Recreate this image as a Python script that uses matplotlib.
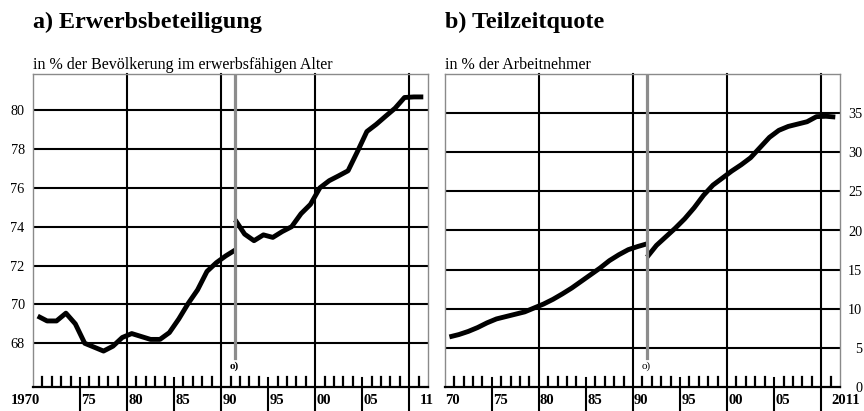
import numpy as np
import matplotlib
matplotlib.use('Agg')
import matplotlib.pyplot as plt

plt.rcParams['font.family'] = ['Liberation Serif', 'DejaVu Serif']

# --- data ---
years_west = np.arange(1970, 1992)
years_all = np.arange(1991, 2012)

# a) Erwerbsbeteiligung, in % der Bevoelkerung im erwerbsfaehigen Alter
erwerb_west = [69.4, 69.15, 69.15, 69.55, 69.0, 68.0, 67.8, 67.6, 67.85, 68.3,
               68.5, 68.35, 68.2, 68.2, 68.55, 69.25, 70.05, 70.75, 71.7, 72.15,
               72.5, 72.8]
erwerb_all = [74.35, 73.62, 73.28, 73.58, 73.45, 73.75, 74.0, 74.67, 75.15, 76.0,
              76.37, 76.62, 76.88, 77.87, 78.9, 79.27, 79.69, 80.1, 80.65, 80.68,
              80.68]

# b) Teilzeitquote, in % der Arbeitnehmer
teilzeit_west = [6.4, 6.7, 7.1, 7.6, 8.2, 8.7, 9.0, 9.3, 9.6, 10.1,
                 10.6, 11.2, 11.9, 12.65, 13.5, 14.35, 15.2, 16.15, 16.9, 17.55,
                 17.95, 18.3]
teilzeit_all = [16.6, 18.1, 19.2, 20.3, 21.5, 22.9, 24.5, 25.8, 26.7, 27.6,
                28.4, 29.3, 30.6, 31.9, 32.8, 33.3, 33.6, 33.9, 34.55, 34.6,
                34.5]

label_years = [1970, 1975, 1980, 1985, 1990, 1995, 2000, 2005, 2011]
labels_a = ['1970', '75', '80', '85', '90', '95', '00', '05', '11']
labels_b = ['70', '75', '80', '85', '90', '95', '00', '05', '2011']

yticks_a = [68, 70, 72, 74, 76, 78, 80]
yticks_b = [5, 10, 15, 20, 25, 30, 35]

break_year = 1991.45
W, H = 864, 411


def draw_panel(ax, west, allg, yticks, ylim, labels, bold_mark):
    ax.set_xlim(1970, 2012)
    ax.set_ylim(*ylim)
    tr = ax.get_xaxis_transform()

    for y in yticks:
        ax.axhline(y, color='black', lw=1.5, zorder=1)
    # decade lines reach down below the box
    for x in [1980, 1990, 2000, 2010]:
        ax.plot([x, x], [-0.08, 1], transform=tr, color='black', lw=1.5,
                clip_on=False, zorder=1)
    # five-year ticks
    for x in [1975, 1985, 1995, 2005]:
        ax.plot([x, x], [-0.08, 0.03], transform=tr, color='black', lw=1.5,
                clip_on=False, zorder=1)
    # yearly ticks
    for x in range(1971, 2012):
        if x % 5 != 0:
            ax.plot([x, x], [0, 0.032], transform=tr, color='black', lw=1.6,
                    zorder=1)

    for sp in ['left', 'top', 'right']:
        ax.spines[sp].set_color('#8a8a8a')
        ax.spines[sp].set_linewidth(1.0)
    ax.spines['bottom'].set_color('black')
    ax.spines['bottom'].set_linewidth(1.6)

    ax.plot(years_west + 0.5, west, color='black', lw=3.5,
            solid_capstyle='butt', solid_joinstyle='round', zorder=2)
    ax.plot(years_all + 0.5, allg, color='black', lw=3.5,
            solid_capstyle='butt', solid_joinstyle='round', zorder=2)

    ax.plot([break_year, break_year], [0.093, 1], transform=tr,
            color='#8c8c8c', lw=2.3, zorder=3)
    ax.text(break_year, 0.068, 'o)', transform=tr, ha='center', va='center',
            fontsize=8, fontweight='bold' if bold_mark else 'normal')

    ax.set_xticks([])
    for yr, lab in zip(label_years, labels):
        if lab == '1970':
            ax.text(1970.7, -0.043, lab, transform=tr, ha='right', va='center',
                    fontsize=10.5, fontweight='bold')
        elif lab == '70':
            ax.text(1970.05, -0.043, lab, transform=tr, ha='left', va='center',
                    fontsize=10.5, fontweight='bold')
        else:
            ax.text(yr + 0.12, -0.043, lab, transform=tr, ha='left',
                    va='center', fontsize=10.5, fontweight='bold')


fig = plt.figure(figsize=(W / 100, H / 100), dpi=100)

ax1 = fig.add_axes([33 / W, 24 / H, 395 / W, 313 / H])
draw_panel(ax1, erwerb_west, erwerb_all, yticks_a, (65.75, 81.86), labels_a, True)
ax1.set_yticks(yticks_a)
ax1.set_yticklabels([str(v) for v in yticks_a], fontsize=10.3)
ax1.tick_params(axis='y', length=0, pad=6)

ax2 = fig.add_axes([444.7 / W, 24 / H, 395.3 / W, 313 / H])
draw_panel(ax2, teilzeit_west, teilzeit_all, yticks_b, (0, 40), labels_b, False)
ax2.yaxis.tick_right()
ax2.set_yticks([0] + yticks_b)
ax2.set_yticklabels([str(v) for v in [0] + yticks_b], fontsize=10.3, ha='right')
ax2.tick_params(axis='y', length=0, pad=16)

fig.text(33 / W, 1 - 28.3 / H, 'a) Erwerbsbeteiligung', fontsize=17.4,
         fontweight='bold', va='baseline')
fig.text(33 / W, 1 - 69.3 / H, 'in % der Bevölkerung im erwerbsfähigen Alter',
         fontsize=11.5, va='baseline')
fig.text(445 / W, 1 - 28.3 / H, 'b) Teilzeitquote', fontsize=17.4,
         fontweight='bold', va='baseline')
fig.text(445 / W, 1 - 69.3 / H, 'in % der Arbeitnehmer', fontsize=11.5,
         va='baseline')

fig.savefig('out.png', dpi=100)
